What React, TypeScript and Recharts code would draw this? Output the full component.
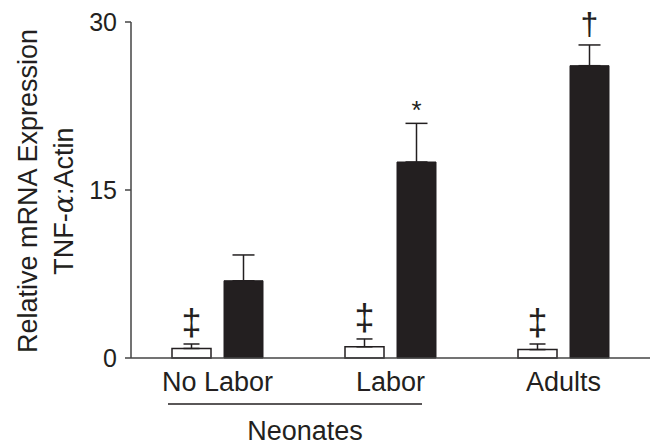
import { BarChart, Bar, XAxis, YAxis, ErrorBar, LabelList, Label } from 'recharts'

const categories = ['No Labor', 'Labor', 'Adults']
const noStim = [0.85, 1.0, 0.75]
const noStimErr = [0.4, 0.7, 0.5]
const stim = [6.9, 17.5, 26.1]
const stimErr = [2.3, 3.45, 1.85]
const noStimMarks = ['‡', '‡', '‡']
const stimMarks = ['', '*', '†']
const yTicks = [0, 15, 30]

const data = categories.map((name, i) => ({
  name,
  white: noStim[i],
  whiteErr: [0, noStimErr[i]],
  black: stim[i],
  blackErr: [0, stimErr[i]],
}))

const ink = '#231f20'
const font = 'Liberation Sans, Arial, Helvetica, sans-serif'

// puts the significance mark just above the top of the error bar
const markLabel = (marks: string[], errs: number[], gaps: number[], sizes: number[]) => (props: any) => {
  const { x, y, width, height, index, value } = props
  const mark = marks[index]
  if (!mark) return null
  const perUnit = value ? height / value : 0
  const errTop = y - errs[index] * perUnit
  return (
    <text
      x={x + width / 2}
      y={errTop - gaps[index]}
      textAnchor="middle"
      fontFamily={font}
      fontSize={sizes[index]}
      fill={ink}
    >
      {mark}
    </text>
  )
}

const YLabel = () => (
  <g fontFamily={font} fontSize={27} fill={ink}>
    <text transform="translate(37,191) rotate(-90)" textAnchor="middle">
      Relative mRNA Expression
    </text>
    <text transform="translate(73,201) rotate(-90)" textAnchor="middle">
      TNF-<tspan fontFamily="DejaVu Serif, serif" fontStyle="italic">α</tspan>:Actin
    </text>
  </g>
)

export default function App() {
  return (
    <div style={{ position: 'absolute', left: 0, top: 0, width: 656, height: 445, background: '#fff' }}>
      <BarChart
        width={656}
        height={445}
        data={data}
        margin={{ top: 22, right: 6, left: 0, bottom: 57 }}
        barSize={39}
        barGap={13}
      >
        <XAxis
          dataKey="name"
          height={30}
          axisLine={{ stroke: '#444', strokeWidth: 1.5 }}
          tickLine={false}
          tick={{ fontFamily: font, fontSize: 27, fill: ink }}
          tickMargin={8}
        />
        <YAxis
          width={131}
          domain={[0, 30]}
          ticks={yTicks}
          axisLine={{ stroke: '#444', strokeWidth: 1.5 }}
          tickLine={{ stroke: '#444', strokeWidth: 1.5 }}
          tickSize={6}
          tickMargin={8}
          tick={{ fontFamily: font, fontSize: 25, fill: ink }}
        >
          <Label content={<YLabel />} />
        </YAxis>
        <Bar dataKey="white" fill="#fff" stroke={ink} strokeWidth={1.5} isAnimationActive={false}>
          <ErrorBar dataKey="whiteErr" width={8} stroke={ink} strokeWidth={1.5} />
          <LabelList dataKey="white" content={markLabel(noStimMarks, noStimErr, [9, 9, 9], [36, 36, 36])} />
        </Bar>
        <Bar dataKey="black" fill={ink} stroke={ink} isAnimationActive={false}>
          <ErrorBar dataKey="blackErr" width={11} stroke={ink} strokeWidth={1.5} />
          <LabelList dataKey="black" content={markLabel(stimMarks, stimErr, [0, 4, 10], [0, 26, 32])} />
        </Bar>
      </BarChart>
      <svg width={656} height={445} style={{ position: 'absolute', left: 0, top: 0, pointerEvents: 'none' }}>
        <line x1={168} x2={422} y1={404} y2={404} stroke={ink} strokeWidth={1.5} />
        <text x={305} y={440} textAnchor="middle" fontFamily={font} fontSize={27} fill={ink}>
          Neonates
        </text>
      </svg>
    </div>
  )
}
